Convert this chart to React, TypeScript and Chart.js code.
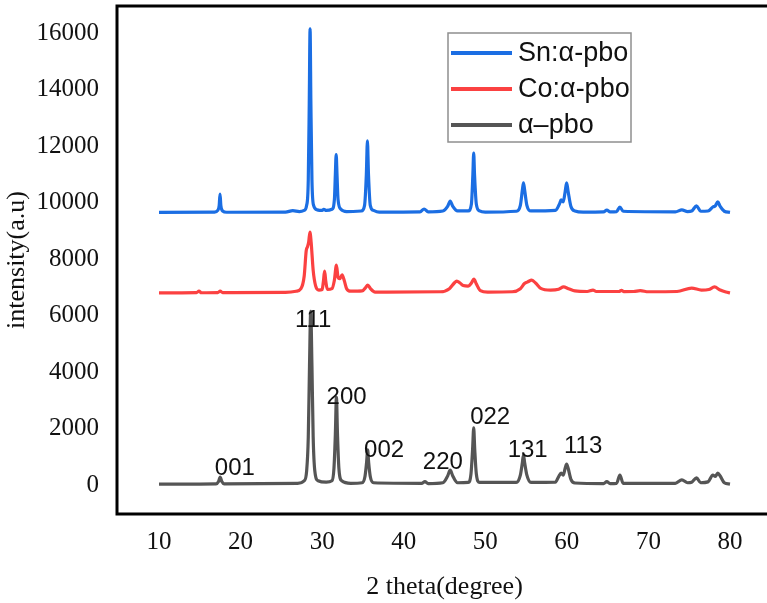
import { useEffect, useRef } from "react";
import { Chart, registerables } from "chart.js";

Chart.register(...registerables);

// Diffraction patterns: [2θ (degree), intensity (a.u.)]
const snPattern: [number, number][] = [
  [10, 9650], [16.8, 9660], [17.2, 9720], [17.38, 9900], [17.48, 10300], [17.58, 9900], [17.8, 9700], [18.3, 9655],
  [25.5, 9660], [26.4, 9710], [27.2, 9680], [27.8, 9720], [28.1, 9900], [28.3, 10800], [28.42, 13500], [28.52, 16150],
  [28.62, 13500], [28.75, 10800], [28.95, 9900], [29.4, 9740], [30.0, 9720], [30.2, 9760], [30.5, 9720], [31.2, 9760],
  [31.5, 10100], [31.62, 11000], [31.72, 11700], [31.82, 11000], [31.95, 10100], [32.3, 9760], [33.0, 9680],
  [34.8, 9700], [35.2, 9900], [35.42, 11000], [35.55, 12180], [35.68, 11000], [35.9, 9900], [36.3, 9720], [37.0, 9660],
  [42.0, 9670], [42.5, 9770], [43.0, 9670],
  [44.8, 9700], [45.4, 9870], [45.7, 10050], [46.0, 9870], [46.6, 9700],
  [47.9, 9700], [48.3, 9950], [48.48, 11000], [48.58, 11750], [48.68, 11000], [48.9, 9950], [49.3, 9700], [50.0, 9660],
  [53.8, 9690], [54.3, 9900], [54.55, 10450], [54.68, 10700], [54.82, 10450], [55.1, 9900], [55.6, 9700],
  [58.6, 9720], [59.1, 9950], [59.3, 10090], [59.55, 10020], [59.8, 10400], [59.97, 10700], [60.15, 10400], [60.5, 9860],
  [61.0, 9700], [62.0, 9660],
  [64.5, 9670], [64.9, 9735], [65.3, 9670],
  [66.1, 9680], [66.5, 9840], [66.9, 9690],
  [73.3, 9670], [74.1, 9740], [74.8, 9680],
  [75.3, 9700], [75.9, 9880], [76.4, 9690],
  [77.3, 9700], [77.9, 9840], [78.2, 9880], [78.5, 10020], [78.8, 9860], [79.3, 9690], [80.0, 9650],
];

const coPattern: [number, number][] = [
  [10, 6800], [14.6, 6810], [14.9, 6860], [15.2, 6805], [17.2, 6810], [17.5, 6860], [17.8, 6810],
  [25.5, 6820], [26.8, 6860], [27.4, 6950], [27.8, 7400], [28.05, 8300], [28.2, 8430], [28.35, 8600], [28.5, 8950],
  [28.65, 8600], [28.9, 7600], [29.2, 7050], [29.6, 6900], [30.0, 6920], [30.15, 7200], [30.3, 7570], [30.45, 7200],
  [30.65, 6920], [31.2, 6950], [31.5, 7250], [31.75, 7780], [31.95, 7350], [32.15, 7300], [32.45, 7440], [32.7, 7250],
  [33.0, 6950], [33.5, 6860],
  [34.9, 6870], [35.3, 6980], [35.6, 7080], [35.9, 6960], [36.5, 6830],
  [44.5, 6840], [45.6, 6950], [46.2, 7150], [46.5, 7220], [46.9, 7150], [47.3, 7060], [47.9, 7040], [48.3, 7150],
  [48.6, 7290], [48.9, 7120], [49.4, 6880], [50.3, 6830],
  [53.3, 6840], [54.3, 6950], [54.8, 7130], [55.2, 7190], [55.7, 7250], [56.2, 7140], [56.8, 6960], [58.0, 6900],
  [59.0, 6930], [59.6, 7010], [60.2, 6950], [61.0, 6870], [62.5, 6850], [63.2, 6900], [63.6, 6850],
  [66.4, 6850], [66.7, 6890], [67.0, 6845], [68.2, 6850], [69.0, 6880], [70.0, 6840], [73.5, 6850], [75.3, 6970],
  [76.5, 6900], [77.4, 6920], [78.1, 7010], [78.8, 6900], [79.5, 6830], [80.0, 6800],
];

const pureFPattern: [number, number][] = [
  [10, 30], [17.0, 40], [17.3, 120], [17.5, 280], [17.7, 120], [18.0, 40],
  [27.0, 60], [27.8, 150], [28.1, 500], [28.3, 1700], [28.45, 4200], [28.6, 6150], [28.75, 4200], [28.9, 1700],
  [29.1, 500], [29.5, 150], [30.5, 100],
  [31.2, 150], [31.45, 600], [31.62, 1800], [31.75, 3100], [31.88, 1800], [32.05, 600], [32.4, 150], [33.5, 60],
  [34.9, 80], [35.25, 300], [35.45, 800], [35.58, 1240], [35.7, 800], [35.9, 300], [36.3, 80],
  [42.2, 60], [42.6, 120], [43.0, 50],
  [44.8, 80], [45.4, 330], [45.7, 530], [46.0, 330], [46.6, 80],
  [47.9, 90], [48.25, 400], [48.45, 1300], [48.58, 2020], [48.7, 1300], [48.9, 400], [49.3, 90],
  [53.8, 90], [54.3, 350], [54.55, 800], [54.68, 1060], [54.82, 800], [55.1, 350], [55.6, 90],
  [58.6, 100], [59.0, 300], [59.3, 420], [59.55, 350], [59.8, 600], [59.97, 740], [60.15, 600], [60.5, 200], [61.0, 70],
  [64.5, 50], [64.9, 120], [65.3, 50], [66.1, 60], [66.5, 350], [66.9, 60],
  [73.3, 60], [74.1, 180], [74.8, 80], [75.3, 100], [75.9, 250], [76.4, 80], [77.3, 110], [77.9, 350], [78.2, 300],
  [78.5, 420], [78.8, 320], [79.3, 80], [80.0, 30],
];

const seriesLabels = ["Sn:α-pbo", "Co:α-pbo", "α–pbo"];
const seriesColors = ["#1b6ee3", "#fb4141", "#555555"];

const xTickValues = [10, 20, 30, 40, 50, 60, 70, 80];
const yTickValues = [0, 2000, 4000, 6000, 8000, 10000, 12000, 14000, 16000];

// Miller indices placed beside the α-PbO reflections: [label, 2θ, intensity]
const hklLabels: [string, number, number][] = [
  ["001", 19.3, 600],
  ["111", 28.9, 5840],
  ["200", 33.0, 3110],
  ["002", 37.6, 1240],
  ["220", 44.8, 810],
  ["022", 50.6, 2400],
  ["131", 55.2, 1240],
  ["113", 62.0, 1380],
];

const xMin = 4.85;
const xMax = 85.15;
const yMin = -1027;
const yMax = 16956;

const framePlugin = {
  id: "frame",
  afterDraw(chart: any) {
    const { ctx, chartArea } = chart;
    const { left, right, top, bottom } = chartArea;
    ctx.save();
    ctx.strokeStyle = "#000";
    ctx.lineWidth = 3;
    ctx.beginPath();
    ctx.moveTo(right, top);
    ctx.lineTo(left, top);
    ctx.lineTo(left, bottom);
    ctx.lineTo(right, bottom);
    ctx.stroke();
    ctx.restore();
  },
};

const hklPlugin = {
  id: "hkl",
  afterDatasetsDraw(chart: any) {
    const { ctx, scales } = chart;
    ctx.save();
    ctx.font = "24px 'Liberation Sans', Arial, sans-serif";
    ctx.fillStyle = "#111";
    ctx.textAlign = "center";
    ctx.textBaseline = "middle";
    for (const [text, tx, ty] of hklLabels) {
      ctx.fillText(text, scales.x.getPixelForValue(tx), scales.y.getPixelForValue(ty));
    }
    ctx.restore();
  },
};

const boxLegendPlugin = {
  id: "boxLegend",
  afterDraw(chart: any) {
    const { ctx, chartArea } = chart;
    const bx = chartArea.left + 331;
    const by = chartArea.top + 27;
    const bw = 183;
    const bh = 109;
    ctx.save();
    ctx.fillStyle = "#fff";
    ctx.fillRect(bx, by, bw, bh);
    ctx.strokeStyle = "#8f8f8f";
    ctx.lineWidth = 1.5;
    ctx.strokeRect(bx, by, bw, bh);
    ctx.font = "27px 'Liberation Sans', Arial, sans-serif";
    ctx.textAlign = "left";
    ctx.textBaseline = "middle";
    chart.data.datasets.forEach((ds: any, i: number) => {
      const ly = by + 20 + i * 36;
      ctx.strokeStyle = ds.borderColor;
      ctx.lineWidth = 4;
      ctx.beginPath();
      ctx.moveTo(bx + 3, ly);
      ctx.lineTo(bx + 64, ly);
      ctx.stroke();
      ctx.fillStyle = "#111";
      ctx.fillText(ds.label, bx + 70, ly + 1);
    });
    ctx.restore();
  },
};

const serif = "'Liberation Serif', 'Times New Roman', serif";

export default function App() {
  const canvasRef = useRef<HTMLCanvasElement | null>(null);

  useEffect(() => {
    if (!canvasRef.current) return;
    const patterns = [snPattern, coPattern, pureFPattern];
    const chart = new Chart(canvasRef.current, {
      type: "line",
      data: {
        datasets: patterns.map((p, i) => ({
          label: seriesLabels[i],
          data: p.map(([x, y]) => ({ x, y })),
          borderColor: seriesColors[i],
          backgroundColor: seriesColors[i],
          borderWidth: 3.2,
          pointRadius: 0,
          cubicInterpolationMode: "monotone" as const,
          fill: false,
        })),
      },
      options: {
        animation: false,
        responsive: false,
        devicePixelRatio: 1,
        layout: { padding: { top: 6, right: 8, left: 0, bottom: 0 } },
        plugins: {
          legend: { display: false },
          tooltip: { enabled: false },
        },
        scales: {
          x: {
            type: "linear",
            min: xMin,
            max: xMax,
            grid: { display: false, drawTicks: false },
            border: { display: false },
            afterBuildTicks(scale: any) {
              scale.ticks = xTickValues.map((value) => ({ value }));
            },
            ticks: {
              padding: 13,
              color: "#111",
              font: { family: serif, size: 25 },
              callback: (v: any) => String(v),
            },
            title: {
              display: true,
              text: "2 theta(degree)",
              color: "#111",
              padding: { top: 0, bottom: 0 },
              font: { family: serif, size: 26 },
            },
            afterFit(scale: any) {
              scale.height = 89;
              scale.paddingLeft = 0;
              scale.paddingRight = 0;
            },
          },
          y: {
            type: "linear",
            min: yMin,
            max: yMax,
            grid: { display: false, drawTicks: false },
            border: { display: false },
            afterBuildTicks(scale: any) {
              scale.ticks = yTickValues.map((value) => ({ value }));
            },
            ticks: {
              padding: 18,
              color: "#111",
              font: { family: serif, size: 25 },
              callback: (v: any) => String(v),
            },
            title: {
              display: true,
              text: "intensity(a.u)",
              color: "#111",
              padding: { top: 2, bottom: 0 },
              font: { family: serif, size: 26 },
            },
            afterFit(scale: any) {
              scale.width = 117;
              scale.paddingTop = 0;
              scale.paddingBottom = 0;
            },
          },
        },
      },
      plugins: [framePlugin, hklPlugin, boxLegendPlugin],
    });
    return () => chart.destroy();
  }, []);

  return (
    <div
      style={{
        position: "fixed",
        left: 0,
        top: 0,
        width: 767,
        height: 603,
        overflow: "hidden",
        background: "#fff",
      }}
    >
      <canvas ref={canvasRef} width={780} height={603} style={{ display: "block" }} />
    </div>
  );
}
